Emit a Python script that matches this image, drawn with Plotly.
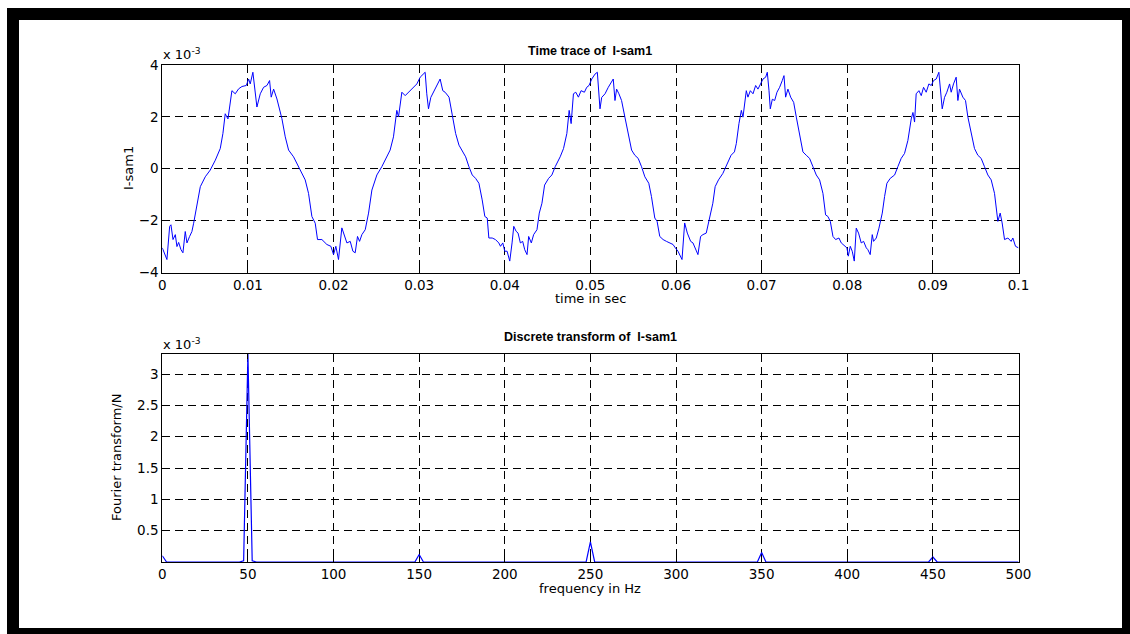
import plotly.graph_objects as go

# ---- time trace of I-sam1 (time in ms, current in units of 1e-3) ----
t_ms = [
    0.00, 0.54, 0.86, 1.01, 1.25, 1.52, 1.71, 1.91, 2.18, 2.41, 2.68, 2.88, 3.19, 3.46, 3.66,
    4.05, 4.44, 5.02, 5.60, 6.19, 6.77, 7.08, 7.35, 7.67, 7.94, 8.13, 8.52, 8.91, 9.30, 9.81,
    10.08, 10.27, 10.58, 10.86, 11.05, 11.44, 11.83, 12.22, 12.53, 12.72, 13.00, 13.39, 13.97,
    14.36, 14.75, 15.33, 16.11, 16.69, 17.08, 17.47, 17.86, 18.13, 18.64, 19.22, 19.69, 20.00,
    20.27, 20.58, 20.97, 21.25, 21.56, 21.95, 22.26, 22.53, 22.80, 23.04, 23.31, 23.70, 24.09,
    24.48, 25.06, 25.64, 26.23, 26.61, 27.00, 27.39, 27.59, 27.98, 28.37, 28.75, 29.34, 29.73,
    30.12, 30.70, 30.89, 31.09, 31.36, 31.87, 32.45, 32.76, 33.03, 33.49,
    33.88, 34.26, 34.65, 35.04, 35.43, 35.81, 36.20, 36.59, 36.98, 37.36, 37.67, 37.95, 38.14,
    38.53, 38.91, 39.30, 39.50, 39.77, 40.00, 40.27, 40.58, 40.85, 41.05, 41.32, 41.55, 41.82,
    42.09, 42.33, 42.60, 42.79, 43.10, 43.37, 43.76, 44.03, 44.34, 44.65, 45.12, 45.50, 45.89,
    46.47, 46.86, 47.25, 47.52, 47.75, 48.02, 48.29, 48.60, 48.91, 49.30, 49.57, 49.84, 50.16,
    50.54, 50.81, 51.01, 51.12, 51.32, 51.71, 52.09, 52.40, 52.67, 52.87, 53.06, 53.33, 53.64,
    54.03, 54.42, 54.81, 55.19, 55.58, 55.97, 56.36, 56.82, 57.13, 57.52, 57.79, 58.10, 58.49,
    58.88, 59.26, 59.65, 59.92, 60.23, 60.70, 61.01, 61.32, 61.71, 61.98, 62.25, 62.56, 62.87,
    63.14, 63.53, 63.91, 64.30, 64.57, 64.96, 65.47, 65.85, 66.43, 66.82,
    67.04, 67.35, 67.63, 67.82, 68.21, 68.40, 68.68, 68.99, 69.30, 69.57, 69.84, 70.16, 70.47,
    70.66, 70.86, 71.01, 71.25, 71.52, 71.79, 72.10, 72.41, 72.61, 72.80, 73.07, 73.39, 73.74,
    74.05, 74.44, 74.82, 75.21, 75.60, 75.99, 76.38, 76.77, 77.16, 77.47, 77.74, 78.02, 78.33,
    78.64, 79.03, 79.30, 79.69, 79.96, 80.12, 80.35, 80.58, 80.82, 81.05, 81.32, 81.63, 81.91,
    82.22, 82.41, 82.68, 82.92, 83.07, 83.39, 83.70, 84.09, 84.36, 84.63, 85.02, 85.53, 85.91,
    86.30, 86.69, 87.08, 87.47, 87.67, 87.86, 88.05, 88.37, 88.64, 88.91, 89.22, 89.53, 89.81,
    90.08, 90.39, 90.70, 90.89, 91.09, 91.36, 91.63, 91.95, 92.14, 92.41, 92.72, 92.92, 93.11,
    93.50, 93.81, 94.09, 94.47, 94.86, 95.25, 95.64, 96.03, 96.42, 96.81, 97.20, 97.59, 97.86,
    98.09, 98.37, 98.76, 99.14, 99.34, 99.65, 100.00,
]
i_sam1 = [
    -3.05, -3.50, -2.22, -2.16, -2.73, -2.54, -3.00, -2.84, -3.12, -3.24, -2.42, -2.86, -2.61, -2.42, -2.10,
    -1.46, -0.69, -0.31, -0.05, 0.33, 0.78, 1.36, 2.12, 1.92, 2.63, 3.01, 2.89, 3.08, 3.17, 3.21,
    3.46, 3.27, 3.72, 2.76, 2.38, 2.89, 3.14, 3.21, 3.40, 2.76, 3.07, 2.69, 1.93,
    1.23, 0.72, 0.46, -0.05, -0.43, -0.95, -1.84, -2.10, -2.73, -2.73, -2.92, -2.99, -3.31,
    -2.99, -3.50, -2.28, -2.54, -2.86, -2.80, -3.18, -3.24, -2.61, -2.80, -2.54, -2.35, -1.71,
    -0.82, -0.24, 0.08, 0.46, 0.72, 1.23, 2.25, 2.00, 2.95, 2.82, 2.95, 3.14, 3.27,
    3.53, 3.72, 2.89, 2.31, 2.75, 3.07, 3.46, 3.01, 2.95, 2.76,
    2.02, 1.36, 0.91, 0.66, 0.46, 0.08, -0.24, -0.37, -0.56, -1.20, -1.84, -1.90, -2.67,
    -2.67, -2.73, -2.86, -2.99, -2.86, -3.18, -3.18, -3.56, -2.86, -2.22, -2.41, -2.48, -2.86,
    -2.80, -3.12, -3.31, -2.61, -2.86, -2.54, -2.35, -1.71, -1.33, -0.63, -0.37, -0.24, 0.08,
    0.46, 0.78, 1.36, 2.25, 1.74, 2.89, 2.95, 2.76, 3.01, 2.95, 3.14, 3.21, 3.46,
    3.65, 3.72, 2.76, 2.31, 2.75, 2.89, 3.14, 3.33, 3.46, 2.63, 3.07, 2.89, 2.63,
    1.99, 1.36, 0.72, 0.52, 0.40, 0.08, -0.31, -0.56, -1.07, -1.90, -2.03, -2.61, -2.73,
    -2.80, -2.86, -2.92, -3.05, -3.18, -3.50, -2.09, -2.48, -2.80, -2.86, -3.05, -3.31, -2.61,
    -2.54, -2.48, -1.97, -1.33, -0.69, -0.43, -0.18, 0.08, 0.52, 0.65,
    0.97, 1.74, 2.25, 1.99, 3.01, 2.76, 3.01, 2.89, 3.21, 3.07, 3.27, 3.46, 3.53,
    3.72, 3.01, 2.31, 2.68, 2.63, 2.95, 3.14, 3.40, 3.59, 2.76, 3.07, 2.76, 2.56,
    1.99, 1.29, 0.65, 0.52, 0.40, 0.08, -0.24, -0.43, -0.95, -1.78, -1.84, -2.03, -2.61,
    -2.73, -2.67, -2.86, -2.99, -3.05, -3.37, -2.99, -3.18, -3.56, -2.29, -2.48, -2.86, -2.80,
    -3.05, -3.12, -3.31, -2.54, -2.80, -2.67, -2.29, -1.71, -1.07, -0.56, -0.37, -0.24, 0.08,
    0.40, 0.59, 1.09, 1.92, 2.17, 1.80, 2.89, 3.01, 2.82, 3.14, 2.95, 3.27, 3.21,
    3.40, 3.46, 3.72, 3.14, 2.31, 2.75, 2.95, 3.27, 2.95, 3.27, 3.53, 2.63, 3.07,
    2.76, 2.63, 1.99, 1.36, 0.78, 0.52, 0.40, 0.08, -0.24, -0.43, -0.95, -2.03, -1.71,
    -2.09, -2.73, -2.67, -2.80, -2.67, -2.99, -3.05,
]

# ---- one-sided spectrum magnitude / N (frequency in Hz, units of 1e-3) ----
freq_hz = [0, 2.5, 45, 47.5, 50, 52.5, 55, 147.5, 150, 152.5, 247.5, 250, 252.5,
           347.5, 350, 352.5, 447.5, 450, 452.5, 500]
fft_mag = [0.10, 0.0, 0.0, 0.02, 3.32, 0.02, 0.0, 0.0, 0.12, 0.0, 0.0, 0.32, 0.0,
           0.0, 0.15, 0.0, 0.0, 0.08, 0.0, 0.0]

time_ticks = [0, 0.01, 0.02, 0.03, 0.04, 0.05, 0.06, 0.07, 0.08, 0.09, 0.1]
time_tick_text = ["0", "0.01", "0.02", "0.03", "0.04", "0.05", "0.06", "0.07", "0.08", "0.09", "0.1"]
current_ticks = [-4, -2, 0, 2, 4]
freq_ticks = list(range(0, 501, 50))
mag_ticks = [0.5, 1, 1.5, 2, 2.5, 3]
mag_tick_text = ["0.5", "1", "1.5", "2", "2.5", "3"]

W, H = 1130, 634
FONT = "DejaVu Sans, Verdana, sans-serif"
TITLE_FONT = "Liberation Sans, Arial, Helvetica, sans-serif"
BLUE = "#0000ff"


def px(x):
    return x / W


def py(y):
    return 1 - y / H


t_sec = [t / 1000.0 for t in t_ms]

fig = go.Figure()
fig.add_trace(go.Scatter(x=t_sec, y=i_sam1, mode="lines",
                         line=dict(color=BLUE, width=1), xaxis="x", yaxis="y",
                         showlegend=False, hoverinfo="skip"))
fig.add_trace(go.Scatter(x=freq_hz, y=fft_mag, mode="lines",
                         line=dict(color=BLUE, width=1.2), xaxis="x2", yaxis="y2",
                         showlegend=False, hoverinfo="skip"))

axis_common = dict(
    showline=True, linecolor="black", linewidth=1, mirror="ticks",
    ticks="inside", ticklen=5, tickcolor="black", tickwidth=1,
    showgrid=True, gridcolor="black", gridwidth=1, griddash="8px,5px",
    zeroline=False, tickfont=dict(family=FONT, size=13.5, color="black"),
    fixedrange=True,
)

fig.update_layout(
    width=W, height=H,
    margin=dict(l=0, r=0, t=0, b=0, pad=0, autoexpand=False),
    paper_bgcolor="white", plot_bgcolor="white",
    font=dict(family=FONT, size=13, color="black"),
    xaxis=dict(domain=[px(162.3), px(1018.5)], anchor="y", range=[0, 0.1],
               tickvals=time_ticks, ticktext=time_tick_text, **axis_common),
    yaxis=dict(domain=[py(272.5), py(65)], anchor="x", range=[-4, 4],
               tickvals=current_ticks, **axis_common),
    xaxis2=dict(domain=[px(162.3), px(1018.5)], anchor="y2", range=[0, 500],
                tickvals=freq_ticks, **axis_common),
    yaxis2=dict(domain=[py(562), py(354)], anchor="x2", range=[0, 3.32],
                tickvals=mag_ticks, ticktext=mag_tick_text, **axis_common),
)

# black frame around the figure
frame = [(7, 8, 19, 634), (7, 8, 1130, 20), (1122, 8, 1130, 634), (7, 628, 1130, 634)]
for x0, y0, x1, y1 in frame:
    fig.add_shape(type="rect", xref="paper", yref="paper",
                  x0=px(x0), x1=px(x1), y0=py(y1), y1=py(y0),
                  fillcolor="black", line=dict(width=0), layer="above")


def label(text, x, y, size=13, bold=False, angle=0, xanchor="center", yanchor="middle",
          family=FONT):
    fig.add_annotation(text=f"<b>{text}</b>" if bold else text,
                       x=px(x), y=py(y), xref="paper", yref="paper",
                       xanchor=xanchor, yanchor=yanchor, showarrow=False,
                       textangle=angle, font=dict(family=family, size=size, color="black"))


label("Time trace of \u00a0I-sam1", 590, 51, size=12.5, bold=True, family=TITLE_FONT)
label("time in sec", 590, 298)
label("I-sam1", 128, 168, angle=-90)
label("x 10<sup>-3</sup>", 161, 64, xanchor="left", yanchor="bottom")

label("Discrete transform of \u00a0I-sam1", 590, 337, size=12.5, bold=True, family=TITLE_FONT)
label("frequency in Hz", 590, 588)
label("Fourier transform/N", 117, 458, angle=-90)
label("x 10<sup>-3</sup>", 161, 354, xanchor="left", yanchor="bottom")

fig.write_html("out.html")
